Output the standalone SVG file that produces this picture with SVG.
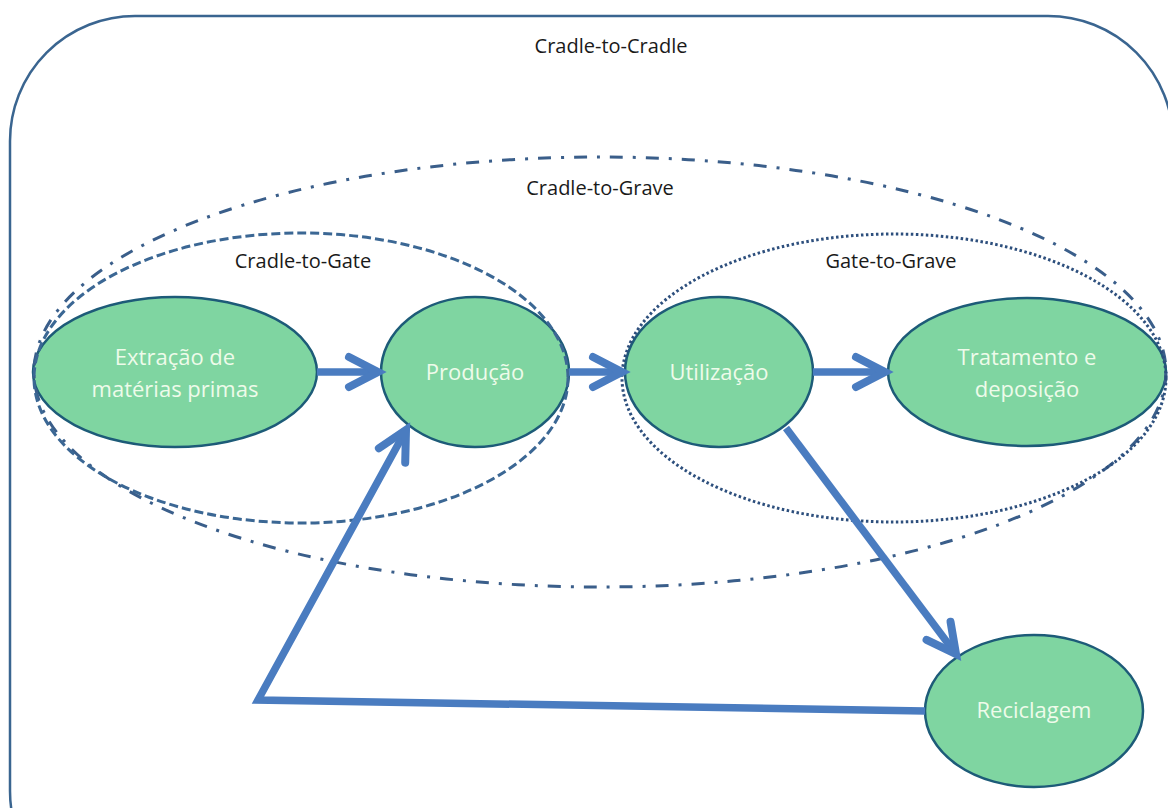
<svg xmlns="http://www.w3.org/2000/svg" width="1168" height="808" viewBox="0 0 1168 808">
<style>
.node{fill:#7fd5a1;stroke:#1d5b78;stroke-width:2.5}
.nt{font-family:"Open Sans","Liberation Sans",sans-serif;font-size:22px;fill:#eefbea;text-anchor:middle}
.lbl{font-family:"Open Sans","Liberation Sans",sans-serif;font-size:20px;fill:#1a1a1a;text-anchor:middle}
.arr{fill:none;stroke:#4a7cc0;stroke-width:7.5;stroke-linejoin:miter}
</style>
<defs>
<marker id="ah" markerUnits="userSpaceOnUse" markerWidth="50" markerHeight="50" viewBox="-40 -25 50 50" refX="0" refY="0" orient="auto" overflow="visible">
<path d="M-29,-15 L0,0 L-29,15" fill="none" stroke="#4a7cc0" stroke-width="8" stroke-linecap="round" stroke-linejoin="miter"/>
</marker>
</defs>
<rect width="1168" height="808" fill="#fff"/>
<g id="boundary-cradle-to-cradle">
<rect x="10" y="16" width="1163" height="900" rx="125" ry="125" fill="none" stroke="#3a6590" stroke-width="2.5"/>
<text class="lbl" x="611" y="53">Cradle-to-Cradle</text>
</g>
<g id="node-extracao">
<ellipse class="node" cx="175" cy="372" rx="142" ry="75"/>
<text class="nt" x="175" y="365">Extração de</text>
<text class="nt" x="175" y="397">matérias primas</text>
</g>
<g id="node-producao">
<ellipse class="node" cx="475" cy="372" rx="94" ry="75"/>
<text class="nt" x="475" y="380">Produção</text>
</g>
<g id="node-utilizacao">
<ellipse class="node" cx="719" cy="372" rx="94" ry="75"/>
<text class="nt" x="719" y="380">Utilização</text>
</g>
<g id="node-tratamento">
<ellipse class="node" cx="1027" cy="372" rx="139" ry="74"/>
<text class="nt" x="1027" y="365">Tratamento e</text>
<text class="nt" x="1027" y="397">deposição</text>
</g>
<g id="node-reciclagem">
<ellipse class="node" cx="1034" cy="711" rx="109" ry="76"/>
<text class="nt" x="1034" y="718">Reciclagem</text>
</g>
<g id="boundary-cradle-to-grave">
<ellipse cx="600" cy="372" rx="566" ry="215" fill="none" stroke="#3a5e8a" stroke-width="3" stroke-dasharray="13 10 3 10"/>
<text class="lbl" x="600" y="195">Cradle-to-Grave</text>
</g>
<g id="boundary-cradle-to-gate">
<ellipse cx="301" cy="378" rx="267" ry="145" fill="none" stroke="#3b6794" stroke-width="3" stroke-dasharray="9 4"/>
<text class="lbl" x="303" y="268">Cradle-to-Gate</text>
</g>
<g id="boundary-gate-to-grave">
<ellipse cx="894" cy="378" rx="272" ry="144" fill="none" stroke="#2d4f7d" stroke-width="3" stroke-dasharray="2.5 2.5"/>
<text class="lbl" x="891" y="268">Gate-to-Grave</text>
</g>
<g id="connectors">
<line class="arr" x1="317" y1="372" x2="378" y2="372" marker-end="url(#ah)"/>
<line class="arr" x1="569" y1="372" x2="622" y2="372" marker-end="url(#ah)"/>
<line class="arr" x1="813" y1="372" x2="885" y2="372" marker-end="url(#ah)"/>
<line class="arr" x1="786" y1="428" x2="956" y2="654" marker-end="url(#ah)"/>
<polyline class="arr" points="925,711 258,700 406,430" marker-end="url(#ah)"/>
</g>
</svg>
